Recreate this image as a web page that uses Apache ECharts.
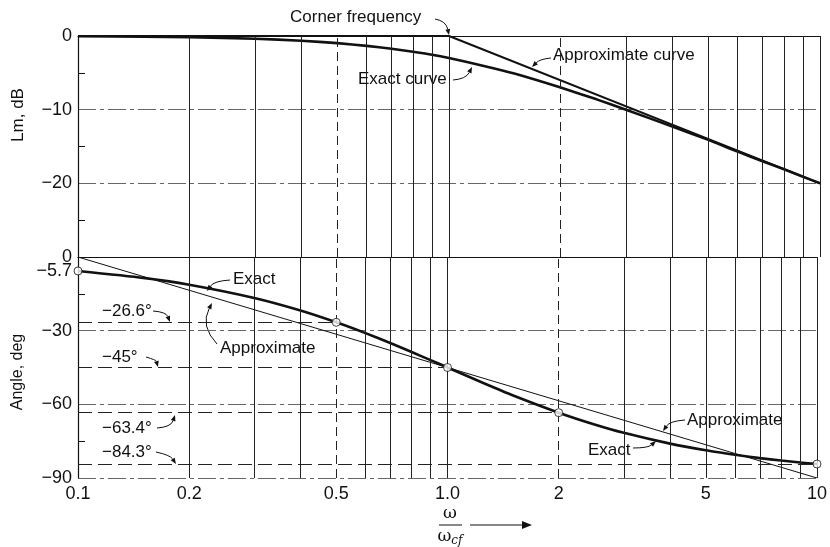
<!DOCTYPE html>
<html><head><meta charset="utf-8">
<script src="https://cdn.jsdelivr.net/npm/echarts@6/dist/echarts.min.js"></script>
<style>html,body{margin:0;padding:0;background:#fff}#c{width:830px;height:547px}</style>
</head><body><div id="c"></div>
<script>
// ---- data ----
const freqs      = [0.1, 0.15, 0.2, 0.3, 0.4, 0.5, 0.6, 0.7, 0.8, 0.9, 1, 1.25, 1.5, 2, 2.5, 3, 4, 5, 6, 7, 8, 9, 10];
const magExact   = [-0.04, -0.1, -0.17, -0.37, -0.64, -0.97, -1.34, -1.73, -2.15, -2.55, -3.0, -4.1, -5.1, -7.0, -8.6, -10.0, -12.3, -14.1, -15.7, -17.0, -18.1, -19.1, -20.0];
const phaseExact = [-5.7, -8.5, -11.3, -16.7, -21.8, -26.6, -31.0, -35.0, -38.7, -42.0, -45.0, -51.3, -56.3, -63.4, -68.2, -71.6, -76.0, -78.7, -80.5, -81.9, -82.9, -83.7, -84.3];
const magApproxFreqs = [0.1, 1, 10];
const magApproxVals  = [0, 0, -20];
const phaseApproxFreqs = [0.1, 10];
const phaseApproxVals  = [0, -90];
const markerFreqs  = [0.1, 0.5, 1, 2, 10];
const markerAngles = [-5.7, -26.6, -45, -63.4, -84.3];
const refAngles    = [-26.6, -45, -63.4, -84.3];
const refEndFreqs  = [0.5, 1, 2, 10];
const xTickLabels     = [0.1, 0.2, 0.5, 1, 2, 5, 10];
const magTickLabels   = [0, -10, -20];
const phaseTickLabels = [0, -30, -60, -90];
const phaseExtraLabel = [-5.7];
const gridFreqs   = [0.2, 0.3, 0.4, 0.5, 0.6, 0.7, 0.8, 0.9, 1, 2, 3, 4, 5, 6, 7, 8, 9, 10];
const dashedFreqs = [0.5, 2];

// ---- helpers ----
const zip = (xs, ys) => xs.map((x, i) => [x, ys[i]]);
const FONT = '"Liberation Sans", Arial, sans-serif';
const INK = '#111';
const minus = v => String(v).replace('-', '\u2212');
const xFmt = v => { const r = Math.round(v * 100) / 100; return r === 1 ? '1.0' : String(r); };

const vLines = gridFreqs.map(f => ({
  xAxis: f,
  lineStyle: { type: dashedFreqs.includes(f) ? [9, 5] : 'solid', color: '#222', width: 1 }
}));
const refLines = refAngles.map((a, i) => [
  { coord: [0.1, a], lineStyle: { type: [14, 6], color: '#222', width: 1 } },
  { coord: [refEndFreqs[i], a] }
]);

function arrow(x1, y1, cx, cy, x2, y2) {
  const dx = x2 - cx, dy = y2 - cy, L = Math.hypot(dx, dy) || 1;
  const ux = dx / L, uy = dy / L, nx = -uy, ny = ux, hl = 6, hw = 2.4;
  const bx = x2 - ux * hl, by = y2 - uy * hl;
  return [
    { type: 'bezierCurve', shape: { x1, y1, cpx1: cx, cpy1: cy, x2: bx, y2: by },
      style: { stroke: INK, lineWidth: 1, fill: null }, silent: true },
    { type: 'polygon', shape: { points: [[x2, y2], [bx + nx * hw, by + ny * hw], [bx - nx * hw, by - ny * hw]] },
      style: { fill: INK }, silent: true }
  ];
}
function txt(text, x, y, size) {
  return { type: 'text', silent: true,
    style: { text, x, y, fill: INK, font: (size || 17) + 'px ' + FONT, align: 'left', verticalAlign: 'middle' } };
}

const graphics = [
  txt('Corner frequency', 290, 17), ...arrow(435, 19, 446, 21, 449, 35),
  txt('Approximate curve', 553, 55), ...arrow(551, 58, 540, 59, 532, 67),
  txt('Exact curve', 358, 79), ...arrow(453, 80, 466, 79, 472, 67),
  txt('Exact', 233, 279), ...arrow(230, 280, 214, 281, 207, 291),
  txt('Approximate', 220, 348), ...arrow(217, 344, 200, 326, 212, 303),
  txt('\u221226.6\u00b0', 102, 311), ...arrow(153, 311, 166, 312, 170, 322),
  txt('\u221245\u00b0', 102, 357), ...arrow(146, 357, 156, 360, 158, 367),
  txt('\u221263.4\u00b0', 102, 428), ...arrow(157, 428, 171, 427, 175, 415),
  txt('\u221284.3\u00b0', 102, 452), ...arrow(156, 452, 170, 455, 176, 464),
  txt('Approximate', 687, 420), ...arrow(685, 420, 670, 421, 663, 431),
  txt('Exact', 588, 450), ...arrow(633, 448, 648, 448, 656, 441),
  // axis names
  { type: 'text', x: 18, y: 115, rotation: Math.PI / 2, silent: true,
    style: { text: 'Lm, dB', fill: INK, font: '17px ' + FONT, align: 'center', verticalAlign: 'middle' } },
  { type: 'text', x: 18, y: 372, rotation: Math.PI / 2, silent: true,
    style: { text: 'Angle, deg', fill: INK, font: '16px ' + FONT, align: 'center', verticalAlign: 'middle' } },
  // x-axis name: omega / omega_cf with arrow
  { type: 'text', silent: true, style: { text: '\u03c9', x: 450, y: 514, fill: INK, font: '17px "DejaVu Serif", serif', align: 'center', verticalAlign: 'middle' } },
  { type: 'line', silent: true, shape: { x1: 439, y1: 525, x2: 462, y2: 525 }, style: { stroke: INK, lineWidth: 1 } },
  { type: 'text', silent: true, style: { text: '{w|\u03c9}{s|cf}', x: 450, y: 537, align: 'center', verticalAlign: 'middle',
      rich: { w: { font: '17px "DejaVu Serif", serif', fill: INK }, s: { font: 'italic 12px "DejaVu Serif", serif', fill: INK, padding: [8, 0, 0, 0] } } } },
  { type: 'line', silent: true, shape: { x1: 470, y1: 525, x2: 524, y2: 525 }, style: { stroke: INK, lineWidth: 1.2 } },
  { type: 'polygon', silent: true, shape: { points: [[532, 525], [522, 521], [522, 529]] }, style: { fill: INK } }
];

const splitStyle = { show: true, lineStyle: { color: '#666', width: 1, type: [18, 4, 4, 4] } };
const axisLab = { color: INK, fontSize: 18, fontFamily: FONT, showMinLabel: true, showMaxLabel: true, hideOverlap: false };
const yAxisCommon = {
  axisLine: { show: true, lineStyle: { color: INK, width: 1.2 } },
  axisTick: { show: false, inside: true },
  minorTick: { show: true, splitNumber: 2, length: 7, lineStyle: { color: INK, width: 1 } },
  splitLine: splitStyle
};

const option = {
  backgroundColor: '#fff',
  animation: false,
  grid: [
    { left: 78, right: 10, top: 36, height: 221 },
    { left: 78, right: 10, top: 257, height: 221 }
  ],
  xAxis: [
    { gridIndex: 0, type: 'log', logBase: 10, min: 0.1, max: 10, position: 'top',
      axisLine: { show: true, lineStyle: { color: INK, width: 1.2 } }, axisTick: { show: false },
      axisLabel: { show: false }, splitLine: { show: false }, minorTick: { show: false } },
    { gridIndex: 1, type: 'log', logBase: 10, min: 0.1, max: 10,
      axisLine: { show: true, lineStyle: { color: INK, width: 1.2 } }, axisTick: { show: false },
      axisLabel: Object.assign({ customValues: xTickLabels, formatter: xFmt, margin: 7 }, axisLab),
      splitLine: { show: false }, minorTick: { show: false } }
  ],
  yAxis: [
    Object.assign({ gridIndex: 0, type: 'value', min: -30, max: 0, interval: 10,
      axisLabel: Object.assign({ customValues: magTickLabels, formatter: minus, margin: 6 }, axisLab) }, yAxisCommon),
    Object.assign({ gridIndex: 1, type: 'value', min: -90, max: 0, interval: 30,
      axisLabel: Object.assign({ customValues: phaseTickLabels, formatter: minus, margin: 6 }, axisLab) }, yAxisCommon),
    { gridIndex: 1, type: 'value', min: -90, max: 0, interval: 30, position: 'left', offset: 0,
      axisLine: { show: false }, axisTick: { show: false }, splitLine: { show: false }, minorTick: { show: false },
      axisLabel: Object.assign({ customValues: phaseExtraLabel, formatter: minus, margin: 6 }, axisLab) }
  ],
  series: [
    { type: 'line', xAxisIndex: 0, yAxisIndex: 0, data: zip(magApproxFreqs, magApproxVals),
      symbol: 'none', lineStyle: { color: INK, width: 2 }, z: 3,
      markLine: { silent: true, symbol: ['none', 'none'], label: { show: false }, data: vLines } },
    { type: 'line', xAxisIndex: 0, yAxisIndex: 0, data: zip(freqs, magExact), smooth: 0.2,
      symbol: 'none', lineStyle: { color: INK, width: 2.6 }, z: 4 },
    { type: 'line', xAxisIndex: 1, yAxisIndex: 1, data: zip(phaseApproxFreqs, phaseApproxVals),
      symbol: 'none', lineStyle: { color: INK, width: 1 }, z: 3,
      markLine: { silent: true, symbol: ['none', 'none'], label: { show: false }, data: vLines.concat(refLines) } },
    { type: 'line', xAxisIndex: 1, yAxisIndex: 1, data: zip(freqs, phaseExact), smooth: 0.2,
      symbol: 'none', lineStyle: { color: INK, width: 2.6 }, z: 4 },
    { type: 'scatter', xAxisIndex: 1, yAxisIndex: 1, data: zip(markerFreqs, markerAngles),
      symbol: 'circle', symbolSize: 8, itemStyle: { color: '#fff', borderColor: INK, borderWidth: 1 }, z: 6, silent: true }
  ],
  graphic: graphics
};
echarts.init(document.getElementById('c'), null, { renderer: 'canvas' }).setOption(option);
</script></body></html>
